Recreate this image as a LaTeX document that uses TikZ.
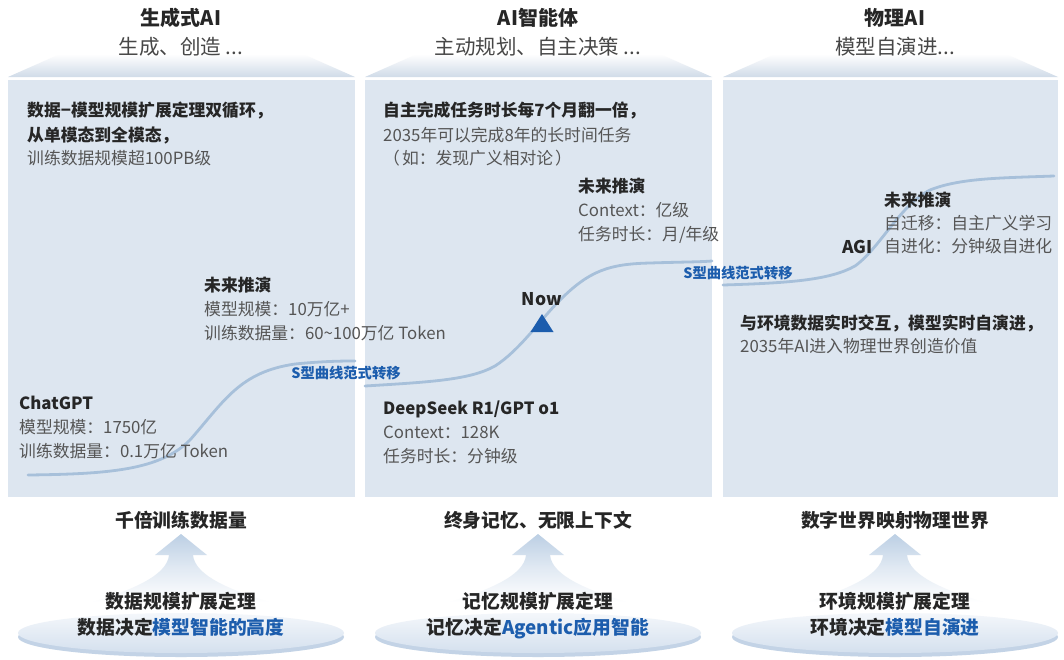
\documentclass[tikz,border=0pt]{standalone}
\usepackage{fontspec}
\setmainfont{Noto Sans CJK SC}
\newfontfamily\cjknok{Noto Sans CJK SC}[Kerning=Off]
\definecolor{panel}{HTML}{DDE6F0}
\definecolor{curvec}{HTML}{A7C0DA}
\definecolor{accent}{HTML}{1C5DAD}
\definecolor{txt}{HTML}{262626}
\definecolor{gtxt}{HTML}{555555}
\definecolor{band}{HTML}{D0DBE8}
\definecolor{arrowc}{HTML}{BCCFE4}
\definecolor{discA}{HTML}{F4F7FB}
\definecolor{discB}{HTML}{D4E0EE}
\definecolor{rim}{HTML}{C3D3E6}
\tikzset{
  body/.style={anchor=base west, inner sep=0pt, font=\fontsize{16.8}{19}\selectfont, text=gtxt},
  head/.style={anchor=base west, inner sep=0pt, font=\fontsize{16.8}{19}\selectfont\bfseries, text=txt},
  ttl/.style={anchor=base, inner sep=0pt, font=\fontsize{20}{23}\selectfont\bfseries, text=txt},
  subttl/.style={anchor=base, inner sep=0pt, font=\fontsize{20.5}{23}\selectfont, text=txt!85},
  slabel/.style={anchor=base, inner sep=0pt, font=\fontsize{14.3}{16}\selectfont\bfseries, text=accent},
  bot/.style={anchor=base, inner sep=0pt, font=\fontsize{18.8}{21}\selectfont\bfseries, text=txt},
  scurve/.style={draw=curvec, line width=2.8pt, line cap=round},
  panelbox/.style={fill=panel},
}
\begin{document}
\begin{tikzpicture}[x=1pt,y=-1pt]
\useasboundingbox (0,0) rectangle (1064,659);
\fill[white] (0,0) rectangle (1064,659);

% banners and panels
\foreach \l/\r in {8/355, 365/712, 723/1058}{
  \shade[top color=white, bottom color=band] (\l,77) -- (\l+52,54) -- (\r-52,54) -- (\r,77) -- cycle;
  \fill[panelbox] (\l,80) rectangle (\r,497);
}

% titles
\node[ttl] (t1) at (181,25) {生成式AI};
\node[subttl] (s1) at (181,54) {生成、创造 ...};
\node[ttl] (t2) at (538,25) {AI智能体};
\node[subttl] (s2) at (538,54) {主动规划、自主决策 ...};
\node[ttl] (t3) at (895,25) {物理AI};
\node[subttl] (s3) at (895,54) {模型自演进...};

% curves
\draw[scurve] (28,475) .. controls (110,474) and (160,470) .. (190,440)
  .. controls (225,400) and (240,372) .. (295,364)
  .. controls (325,361) and (345,361) .. (355,361);
\draw[scurve] (365,386) .. controls (430,382) and (470,380) .. (495,366)
  .. controls (520,350) and (540,320) .. (560,300)
  .. controls (590,270) and (610,264) .. (650,263)
  .. controls (680,262) and (700,262) .. (712,261);
\draw[scurve] (723,285) .. controls (790,283) and (830,280) .. (855,266)
  .. controls (880,248) and (900,205) .. (930,190)
  .. controls (960,178) and (1000,178) .. (1054,176);

% panel 1 texts
\node[head] (p1a) at (27,116) {数据−模型规模扩展定理双循环，};
\node[head] (p1b) at (27,141) {从单模态到全模态，};
\node[body] (p1c) at (27,164) {训练数据规模超100PB级};
\node[head] (p1d) at (204,291) {未来推演};
\node[body] (p1e) at (204,315) {模型规模：10万亿+};
\node[body] (p1f) at (204,339) {训练数据量：60\textasciitilde100万亿 Token};
\node[head] (p1g) at (19,409) {ChatGPT};
\node[body] (p1h) at (19,433) {模型规模：1750亿};
\node[body] (p1i) at (19,457) {训练数据量：0.1万亿 Token};
\node[slabel] (sl1) at (346,378) {S型曲线范式转移};

% panel 2 texts
\node[head] (p2a) at (383,116) {自主完成任务时长每7个月翻一倍，};
\node[body] (p2b) at (383,141) {2035年可以完成8年的长时间任务};
\node[body] (p2c) at (383,164) {\cjknok （\hspace{2pt}如：发现广义相对论\hspace{2pt}）};
\node[head] (p2d) at (578,192) {未来推演};
\node[body] (p2e) at (578,216) {Context：亿级};
\node[body] (p2f) at (578,240) {任务时长：月/年级};
\node[anchor=base, inner sep=0pt, font=\fontsize{17.5}{20}\selectfont\bfseries, text=txt] (now) at (542,305) {Now};
\fill[accent] (542,314) -- (553.5,332) -- (530.5,332) -- cycle;
\node[head] (p2g) at (383,414) {DeepSeek R1/GPT o1};
\node[body] (p2h) at (383,438) {Context：128K};
\node[body] (p2i) at (383,462) {任务时长：分钟级};
\node[slabel] (sl2) at (738,278) {S型曲线范式转移};

% panel 3 texts
\node[head] (p3a) at (884,206) {未来推演};
\node[body] (p3b) at (884,229) {自迁移：自主广义学习};
\node[body] (p3c) at (884,252) {自进化：分钟级自进化};
\node[anchor=base east, inner sep=0pt, font=\fontsize{17.5}{20}\selectfont\bfseries, text=txt] (agi) at (873,253) {AGI};
\node[head] (p3d) at (740,329) {与环境数据实时交互，模型实时自演进，};
\node[body] (p3e) at (740,352) {2035年AI进入物理世界创造价值};

% bottom
\foreach \cx in {181,538,895}{
  \shade[top color=arrowc, bottom color=white, middle color=arrowc!45]
    (\cx,534) -- (\cx+26,555) -- (\cx+12,555)
    .. controls (\cx+14,576) and (\cx+50,590) .. (\cx+88,602)
    -- (\cx-88,602)
    .. controls (\cx-50,590) and (\cx-14,576) .. (\cx-12,555)
    -- (\cx-26,555) -- cycle;
  \fill[rim] (\cx,637) ellipse [x radius=163pt, y radius=20pt];
  \shade[top color=discA, bottom color=discB] (\cx,633) ellipse [x radius=163pt, y radius=20pt];
}
\node[bot] (b1) at (181,527) {千倍训练数据量};
\node[bot] (b1a) at (181,608) {数据规模扩展定理};
\node[bot] (b1b) at (181,634) {数据决定{\color{accent}模型智能的高度}};
\node[bot] (b2) at (538,527) {终身记忆、无限上下文};
\node[bot] (b2a) at (538,608) {记忆规模扩展定理};
\node[bot] (b2b) at (538,634) {记忆决定{\color{accent}Agentic应用智能}};
\node[bot] (b3) at (895,527) {数字世界映射物理世界};
\node[bot] (b3a) at (895,608) {环境规模扩展定理};
\node[bot] (b3b) at (895,634) {环境决定{\color{accent}模型自演进}};
\end{tikzpicture}
\end{document}
